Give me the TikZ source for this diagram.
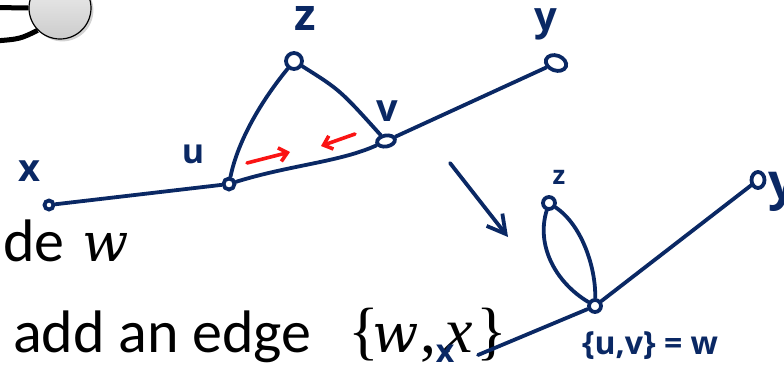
\documentclass[tikz,border=0pt]{standalone}
\usepackage{fontspec}
\setmainfont{Carlito}
\newfontfamily\hand{Open Sans}
\newfontfamily\serifit{Liberation Serif}
\newfontfamily\serifw{DejaVu Serif}
\usetikzlibrary{arrows.meta,shadows,shapes.geometric}
\definecolor{navy}{RGB}{10,40,100}
\definecolor{pen}{RGB}{250,20,20}
\begin{document}
\begin{tikzpicture}[x=1pt,y=-1pt,
  edge/.style={draw=navy,line width=3.8pt,line cap=round},
  redarrow/.style={draw=pen,line width=3.6pt,line cap=round,-{Straight Barb[length=8pt,width=14pt]}},
  vtx/.style={draw=navy,line width=3.8pt,fill=white,circle,inner sep=0pt,minimum size=#1},
  evtx/.style={draw=navy,line width=3.8pt,fill=white,ellipse,inner sep=0pt},
  lbl/.style={text=navy,font=\hand\bfseries\fontsize{#1}{#1}\selectfont,inner sep=0pt},
  slide/.style={font=\fontsize{60}{72}\selectfont,inner sep=0pt,anchor=base west},
  slidem/.style={font=\serifit\fontsize{64}{72}\selectfont,inner sep=0pt,anchor=base west},
  slidew/.style={font=\serifw\itshape\fontsize{54}{72}\selectfont,inner sep=0pt,anchor=base west}]
\useasboundingbox (0,0) rectangle (784,368);

% slide background piece
\node[circle,draw=black,line width=1.2pt,top color=gray!12,bottom color=gray!40,
      minimum size=62pt,drop shadow={opacity=0.35}] (g) at (60,8) {};
\coordinate (l1) at (-5,7.5);
\coordinate (l2) at (-5,41);
\draw[line width=5pt] (l1) -- (g.west);
\draw[line width=5pt] (l2) .. controls (20,39) .. (g.225);

% slide text
\node[slide] (t1) at (3,261) {de};
\node[slidew] (t1w) at (82,261) {w};
\node[slide] (t2) at (13,352) {add an edge};
\node[slidem] (t2a) at (348,352) {\{};
\node[slidew] (t2w) at (372,352) {w};
\node[slidem] (t2c) at (420,352) {,};
\node[slidem] (t2x) at (444,352) {\itshape x};
\node[slidem] (t2b) at (476,352) {\}};

% first graph
\node[vtx=9pt] (x) at (49,205) {};
\node[vtx=11pt] (u) at (229,184) {};
\node[vtx=16pt] (z) at (294,61) {};
\node[evtx,minimum width=18pt,minimum height=11pt,rotate=10] (v) at (386,141) {};
\node[evtx,minimum width=21pt,minimum height=15pt,rotate=-20] (y) at (556,63) {};

\draw[edge] (x) -- (u);
\draw[edge] (u) .. controls (238,140) and (262,100) .. (z);
\draw[edge] (z) .. controls (340,90) .. (v);
\draw[edge] (u) .. controls (290,165) and (340,162) .. (v);
\draw[edge] (v) -- (y);

\node[lbl=38] (lx) at (29,171) {x};
\node[lbl=34] (lu) at (193,154) {u};
\node[lbl=44] (lz) at (305,18) {z};
\node[lbl=38] (lv) at (387,111) {v};
\node[lbl=40] (ly) at (546,24) {y};

\coordinate (r1a) at (247,163);
\coordinate (r1b) at (290,152);
\coordinate (r2a) at (355,134);
\coordinate (r2b) at (321,146);
\draw[redarrow] (r1a) -- (r1b);
\draw[redarrow] (r2a) -- (r2b);

% transformation arrow
\coordinate (a1) at (450,163);
\coordinate (a2) at (508,237);
\draw[edge,-{Straight Barb[length=18pt,width=20pt]}] (a1) -- (a2);

% second graph
\node[vtx=12pt] (z2) at (549,203) {};
\node[vtx=12pt] (w) at (595,306) {};
\node[evtx,minimum width=13pt,minimum height=16pt] (y2) at (758,180) {};
\coordinate (xend) at (478,355);

\draw[edge] (z2) .. controls (536,245) and (555,282) .. (w);
\draw[edge] (z2) .. controls (582,225) and (596,268) .. (w);
\draw[edge] (w) -- (y2);
\draw[edge] (w) -- (xend);

\node[lbl=26] (lz2) at (559,177) {z};
\node[lbl=50] (ly2) at (783,192) {y};
\node[lbl=32] (lx2) at (445,354) {x};
\node[lbl=32] (lw) at (650,346) {\{u,v\} = w};
\end{tikzpicture}
\end{document}
